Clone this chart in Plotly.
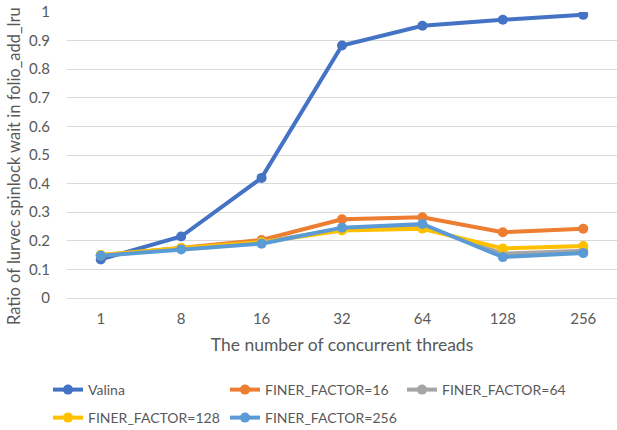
import plotly.graph_objects as go

threads = ["1", "8", "16", "32", "64", "128", "256"]
valina = [0.135, 0.215, 0.42, 0.883, 0.952, 0.973, 0.99]
finer16 = [0.148, 0.175, 0.203, 0.275, 0.282, 0.23, 0.242]
finer64 = [0.15, 0.172, 0.195, 0.242, 0.252, 0.155, 0.165]
finer128 = [0.15, 0.175, 0.195, 0.236, 0.242, 0.173, 0.182]
finer256 = [0.148, 0.17, 0.19, 0.246, 0.259, 0.143, 0.157]

names = ["Valina", "FINER_FACTOR=16", "FINER_FACTOR=64", "FINER_FACTOR=128", "FINER_FACTOR=256"]
series = [valina, finer16, finer64, finer128, finer256]
colors = ["#4472C4", "#ED7D31", "#A5A5A5", "#FFC000", "#5B9BD5"]
legend_ids = ["legend", "legend2", "legend3", "legend4", "legend5"]
# legend item origins (px) in the container
legend_pos = [(48, 390), (225, 390), (402, 390), (48, 418), (225, 418)]

FONT = "Lato"
TXT = "#595959"
W, H = 617, 430

fig = go.Figure()
for name, vals, col, lid in zip(names, series, colors, legend_ids):
    fig.add_trace(go.Scatter(
        x=threads, y=vals, name=name, mode="lines+markers",
        line=dict(color=col, width=4),
        marker=dict(color=col, size=10),
        legend=lid,
    ))

layout_legends = {}
for lid, (px, py) in zip(legend_ids, legend_pos):
    layout_legends[lid] = dict(
        xref="container", yref="container",
        x=px / W, y=1 - py / H, xanchor="left", yanchor="middle",
        orientation="h", bgcolor="rgba(0,0,0,0)",
        font=dict(family=FONT, size=14, color=TXT),
        itemwidth=30,
    )

fig.update_layout(
    width=W, height=H,
    margin=dict(l=67, r=0, t=12, b=132),
    plot_bgcolor="white", paper_bgcolor="white",
    font=dict(family=FONT, color=TXT),
    showlegend=True,
    **layout_legends,
)
fig.add_annotation(
    text="Ratio of lurvec spinlock wait in folio_add_lru",
    xref="paper", yref="paper", x=(14 - 67) / 550, y=(298 - 166) / 286,
    xanchor="center", yanchor="middle", textangle=-90, showarrow=False,
    font=dict(family=FONT, size=16.5, color=TXT),
)
fig.update_xaxes(
    type="category", showgrid=False, zeroline=False, showline=True,
    linecolor="#D9D9D9", linewidth=1, ticks="",
    tickfont=dict(family=FONT, size=15, color=TXT),
    ticklabelstandoff=7,
    title=dict(text="The number of concurrent threads",
               font=dict(family=FONT, size=17.5, color=TXT), standoff=12),
)
fig.update_yaxes(
    range=[0, 1], dtick=0.1, showgrid=True, gridcolor="#D9D9D9", gridwidth=1,
    zeroline=False, showline=False, ticks="",
    tickfont=dict(family=FONT, size=15, color=TXT),
    ticklabelstandoff=16,
)
fig.write_html("out.html")
